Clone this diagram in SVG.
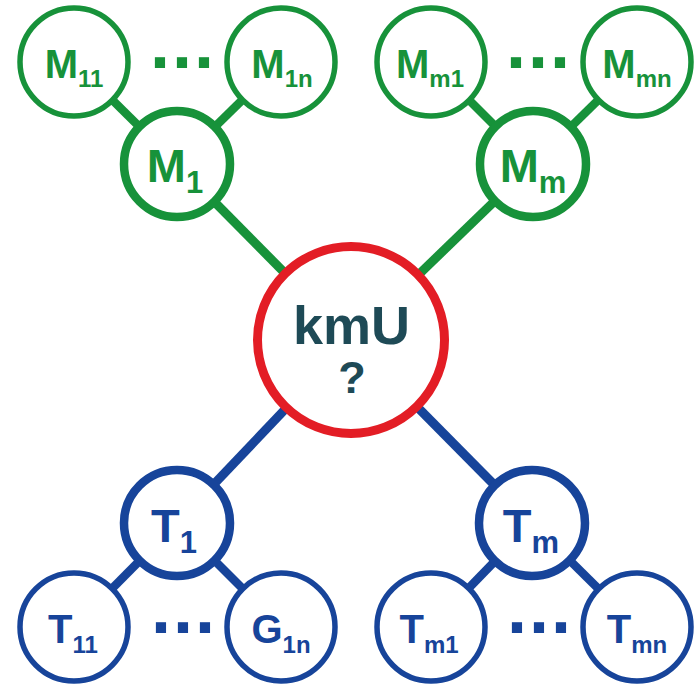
<svg xmlns="http://www.w3.org/2000/svg" width="698" height="684" viewBox="0 0 698 684">
<style>
text{font-family:"Liberation Sans",Arial,sans-serif;font-weight:bold}
.g{stroke:#17923A}
.b{stroke:#17449A}
.gt{fill:#17923A}
.bt{fill:#17449A}
.sm{fill:#fff;stroke-width:5.5}
.bg{fill:#fff;stroke-width:8.5}
.c1{stroke-width:8.5}
.c2{stroke-width:9}
.big{font-size:47px}
.small{font-size:40px}
.dots{font-size:72px;letter-spacing:2px}
</style>
<g id="connectors" fill="none">
<line class="g c1" x1="74" y1="62" x2="177" y2="164"/>
<line class="g c1" x1="281" y1="62" x2="177" y2="164"/>
<line class="g c1" x1="431" y1="62" x2="533" y2="164"/>
<line class="g c1" x1="637" y1="62" x2="533" y2="164"/>
<line class="g c2" x1="177" y1="164" x2="351" y2="340"/>
<line class="g c2" x1="533" y1="164" x2="351" y2="340"/>
<line class="b c2" x1="177" y1="523" x2="351" y2="340"/>
<line class="b c2" x1="532" y1="523" x2="351" y2="340"/>
<line class="b c1" x1="74" y1="627" x2="177" y2="523"/>
<line class="b c1" x1="281" y1="627" x2="177" y2="523"/>
<line class="b c1" x1="431" y1="627" x2="532" y2="523"/>
<line class="b c1" x1="637" y1="627" x2="532" y2="523"/>
</g>
<g id="M11"><circle class="g sm" cx="74" cy="62" r="54"/><text class="gt small" x="74" y="78" text-anchor="middle">M<tspan dy="9" font-size="24">11</tspan></text></g>
<g id="M1n"><circle class="g sm" cx="281" cy="62" r="54"/><text class="gt small" x="282" y="78" text-anchor="middle">M<tspan dy="9" font-size="24">1n</tspan></text></g>
<g id="M1"><circle class="g bg" cx="177" cy="164" r="53"/><text class="gt big" x="175" y="182" text-anchor="middle">M<tspan dy="11" font-size="31">1</tspan></text></g>
<g id="Mm1"><circle class="g sm" cx="431" cy="62" r="54"/><text class="gt small" x="430" y="78" text-anchor="middle">M<tspan dy="9" font-size="24">m1</tspan></text></g>
<g id="Mmn"><circle class="g sm" cx="637" cy="62" r="54"/><text class="gt small" x="637" y="78" text-anchor="middle">M<tspan dy="9" font-size="24">mn</tspan></text></g>
<g id="Mm"><circle class="g bg" cx="533" cy="164" r="53"/><text class="gt big" x="533" y="182" text-anchor="middle">M<tspan dy="11" font-size="31">m</tspan></text></g>
<g id="kmU"><circle cx="351" cy="340" r="93.5" fill="#fff" stroke="#E31D25" stroke-width="9"/><text x="351.5" y="344" text-anchor="middle" font-size="54" fill="#1E4A56">kmU</text><text x="352" y="393" text-anchor="middle" font-size="45" fill="#1E4A56">?</text></g>
<g id="T1"><circle class="b bg" cx="177" cy="523" r="53"/><text class="bt big" x="174" y="542" text-anchor="middle">T<tspan dy="11" font-size="31">1</tspan></text></g>
<g id="Tm"><circle class="b bg" cx="532" cy="523" r="53"/><text class="bt big" x="531" y="542" text-anchor="middle">T<tspan dy="11" font-size="31">m</tspan></text></g>
<g id="T11"><circle class="b sm" cx="74" cy="627" r="54"/><text class="bt small" x="73" y="643" text-anchor="middle">T<tspan dy="10" font-size="24">11</tspan></text></g>
<g id="G1n"><circle class="b sm" cx="281" cy="627" r="54"/><text class="bt small" x="281" y="643" text-anchor="middle">G<tspan dy="10" font-size="24">1n</tspan></text></g>
<g id="Tm1"><circle class="b sm" cx="431" cy="627" r="54"/><text class="bt small" x="429" y="643" text-anchor="middle">T<tspan dy="10" font-size="24">m1</tspan></text></g>
<g id="Tmn"><circle class="b sm" cx="637" cy="627" r="54"/><text class="bt small" x="637" y="643" text-anchor="middle">T<tspan dy="10" font-size="24">mn</tspan></text></g>
<g id="dots">
<text class="gt dots" x="150" y="68">...</text>
<text class="gt dots" x="506" y="68">...</text>
<text class="bt dots" x="151" y="633">...</text>
<text class="bt dots" x="507" y="633">...</text>
</g>
</svg>
